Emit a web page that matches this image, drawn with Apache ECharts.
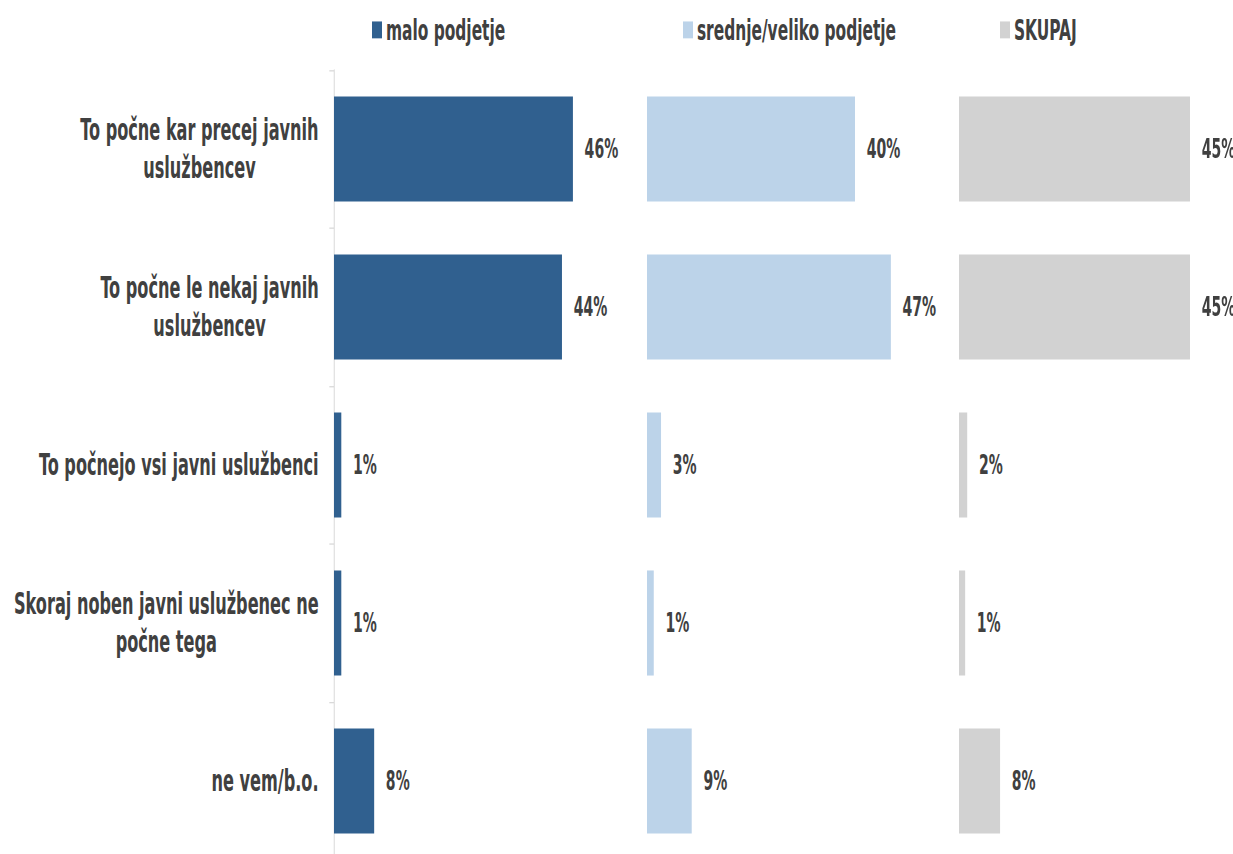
<!DOCTYPE html>
<html>
<head>
<meta charset="utf-8">
<script src="https://cdn.jsdelivr.net/npm/echarts@6/dist/echarts.min.js"></script>
<style>
  html, body { margin: 0; padding: 0; background: #ffffff; overflow: hidden; }
  #wrap { width: 1233px; height: 854px; overflow: hidden; position: relative; }
  #chart { position: absolute; left: 0; top: 0; transform-origin: 0 0; }
</style>
</head>
<body>
<div id="wrap"><div id="chart"></div></div>
<script>
const categories = [
  'To počne kar precej javnih\nuslužbencev',
  'To počne le nekaj javnih\nuslužbencev',
  'To počnejo vsi javni uslužbenci',
  'Skoraj noben javni uslužbenec ne\npočne tega',
  'ne vem/b.o.'
];
const seriesNames = ['malo podjetje', 'srednje/veliko podjetje', 'SKUPAJ'];
const maloPodjetje = [45.8, 43.7, 1.4, 1.4, 7.7];
const srednjeVeliko = [40.0, 46.9, 2.7, 1.3, 8.6];
const skupaj = [45.0, 45.0, 1.6, 1.2, 8.0];
const colors = ['#30608F', '#BCD3E9', '#D2D2D2'];

const FONT = '"Liberation Sans Narrow", "DejaVu Sans Condensed", sans-serif';
const TEXT = '#404040';

// the reference text is tall and narrow: draw in an internal space, then scale the page
const SX = 0.78, SY = 1.3;
const W = 1233 / SX, H = 854 / SY;
const el = document.getElementById('chart');
el.style.width = W + 'px';
el.style.height = H + 'px';
el.style.transform = 'scale(' + SX + ',' + SY + ')';

// layout in page pixels, converted to internal coordinates
const gridLefts = [334, 647, 959].map(v => v / SX);
const gridWidths = [313, 312, 308].map(v => v / SX);
const legendLefts = [372, 683, 1000].map(v => v / SX);
const gridTop = 70 / SY;
const gridHeight = 790 / SY;

const catFontSize = 23;
const ctx = document.createElement('canvas').getContext('2d');
ctx.font = 'bold ' + catFontSize + 'px ' + FONT;
const rich = {};
categories.forEach((c, i) => {
  const w = Math.max(...c.split('\n').map(l => ctx.measureText(l).width));
  rich['r' + i] = {
    width: Math.ceil(w) + 1, align: 'center', fontSize: catFontSize, fontWeight: 'bold',
    fontFamily: FONT, color: TEXT, lineHeight: 29
  };
});

const allData = [maloPodjetje, srednjeVeliko, skupaj];

const option = {
  backgroundColor: '#ffffff',
  animation: false,
  legend: seriesNames.map((n, i) => ({
    data: [n], left: legendLefts[i], top: 12, padding: 0,
    itemWidth: 10 / SX, itemHeight: 13, icon: 'rect',
    textStyle: { fontFamily: FONT, fontWeight: 'bold', fontSize: 22, color: TEXT }
  })),
  grid: gridLefts.map((l, i) => ({
    left: l, width: gridWidths[i], top: gridTop, height: gridHeight,
    outerBoundsMode: 'none', containLabel: false
  })),
  xAxis: gridLefts.map((l, i) => ({ type: 'value', gridIndex: i, min: 0, max: 60, show: false })),
  yAxis: gridLefts.map((l, i) => ({
    type: 'category', gridIndex: i, data: categories, inverse: true,
    show: i === 0,
    axisLine: { show: true, lineStyle: { color: '#D9D9D9', width: 1.3 } },
    axisTick: { show: true, length: 6, lineStyle: { color: '#D9D9D9', width: 1 } },
    axisLabel: {
      margin: 19,
      formatter: (v, idx) => v.split('\n').map(l => '{r' + idx + '|' + l + '}').join('\n'),
      rich: rich
    },
    splitLine: { show: false }
  })),
  series: allData.map((d, i) => ({
    name: seriesNames[i], type: 'bar', xAxisIndex: i, yAxisIndex: i,
    data: d, barCategoryGap: '33.5%',
    itemStyle: { color: colors[i] },
    label: {
      show: true, position: 'right', distance: 15,
      formatter: p => Math.round(p.value) + '%',
      fontFamily: FONT, fontWeight: 'bold', fontSize: 20, color: TEXT
    }
  }))
};

const chart = echarts.init(el, null, { renderer: 'svg', width: W, height: H });
chart.setOption(option);
</script>
</body>
</html>
